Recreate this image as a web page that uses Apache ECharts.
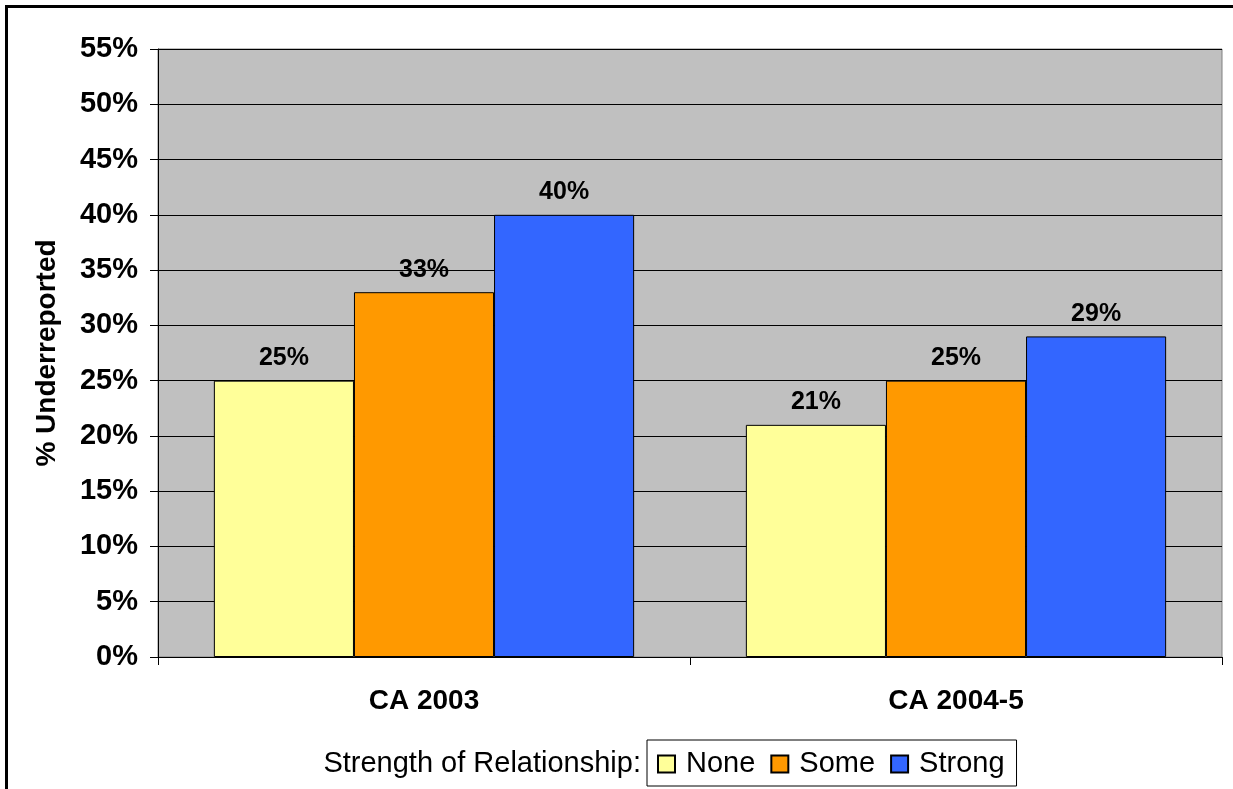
<!DOCTYPE html>
<html>
<head>
<meta charset="utf-8">
<script src="https://cdn.jsdelivr.net/npm/echarts@6/dist/echarts.min.js"></script>
<style>
  html, body { margin: 0; padding: 0; background: #fff; }
  #chart { width: 1233px; height: 789px; }
</style>
</head>
<body>
<div id="chart"></div>
<script>
// Share of underreporting by strength of relationship
const categories = ['CA 2003', 'CA 2004-5'];
const seriesNames = ['None', 'Some', 'Strong'];
const noneValues = [0.25, 0.21];
const someValues = [0.33, 0.25];
const strongValues = [0.40, 0.29];
const seriesColors = ['#FFFF99', '#FF9900', '#3366FF'];

const FONT = '"Liberation Sans", Arial, sans-serif';
const pct = v => Math.round(v * 100) + '%';

const chart = echarts.init(document.getElementById('chart'), null, { renderer: 'canvas' });

function makeSeries(name, data, color) {
  return {
    name: name,
    type: 'bar',
    data: data,
    barGap: '0%',
    barCategoryGap: '21%',
    itemStyle: { color: color, borderColor: '#000', borderWidth: 1 },
    label: {
      show: true,
      position: 'top',
      distance: 10,
      formatter: p => pct(p.value),
      fontFamily: FONT,
      fontWeight: 'bold',
      fontSize: 25,
      color: '#000'
    }
  };
}

chart.setOption({
  animation: false,
  backgroundColor: '#fff',
  grid: {
    left: 158, right: 11, top: 49, bottom: 132,
    show: true,
    backgroundColor: '#C0C0C0',
    borderColor: '#808080',
    borderWidth: 1
  },
  xAxis: {
    type: 'category',
    data: categories,
    axisLine: { lineStyle: { color: '#000', width: 1 } },
    axisTick: { show: true, length: 8, lineStyle: { color: '#000' } },
    axisLabel: {
      margin: 30,
      fontFamily: FONT, fontWeight: 'bold', fontSize: 28, color: '#000'
    }
  },
  yAxis: {
    type: 'value',
    min: 0, max: 0.55, interval: 0.05,
    name: '% Underreported',
    nameLocation: 'middle',
    nameGap: 97,
    nameTextStyle: { fontFamily: FONT, fontWeight: 'bold', fontSize: 28, color: '#000' },
    axisLine: { show: true, lineStyle: { color: '#000', width: 1 } },
    axisTick: { show: true, length: 8, lineStyle: { color: '#000' } },
    splitLine: { show: true, lineStyle: { color: '#000', width: 1 } },
    axisLabel: {
      margin: 20,
      formatter: v => pct(v),
      fontFamily: FONT, fontWeight: 'bold', fontSize: 29, color: '#000'
    }
  },
  legend: {
    data: seriesNames,
    icon: 'rect',
    left: 647, top: 740,
    orient: 'horizontal',
    itemWidth: 17, itemHeight: 17,
    itemGap: 15,
    padding: [9, 12, 7, 10],
    borderColor: '#000', borderWidth: 1,
    backgroundColor: '#fff',
    textStyle: { fontFamily: FONT, fontSize: 29, lineHeight: 30, color: '#000', padding: [0, 0, 0, 6] }
  },
  graphic: [
    {
      type: 'rect',
      shape: { x: 6.5, y: 6.5, width: 1400, height: 1000 },
      style: { fill: 'none', stroke: '#000', lineWidth: 3 },
      silent: true
    },
    {
      type: 'text',
      right: 1233 - 641,
      top: 749,
      style: { text: 'Strength of Relationship:', font: '29px ' + FONT, fill: '#000' }
    }
  ],
  series: [
    makeSeries(seriesNames[0], noneValues, seriesColors[0]),
    makeSeries(seriesNames[1], someValues, seriesColors[1]),
    makeSeries(seriesNames[2], strongValues, seriesColors[2])
  ]
});
</script>
</body>
</html>
